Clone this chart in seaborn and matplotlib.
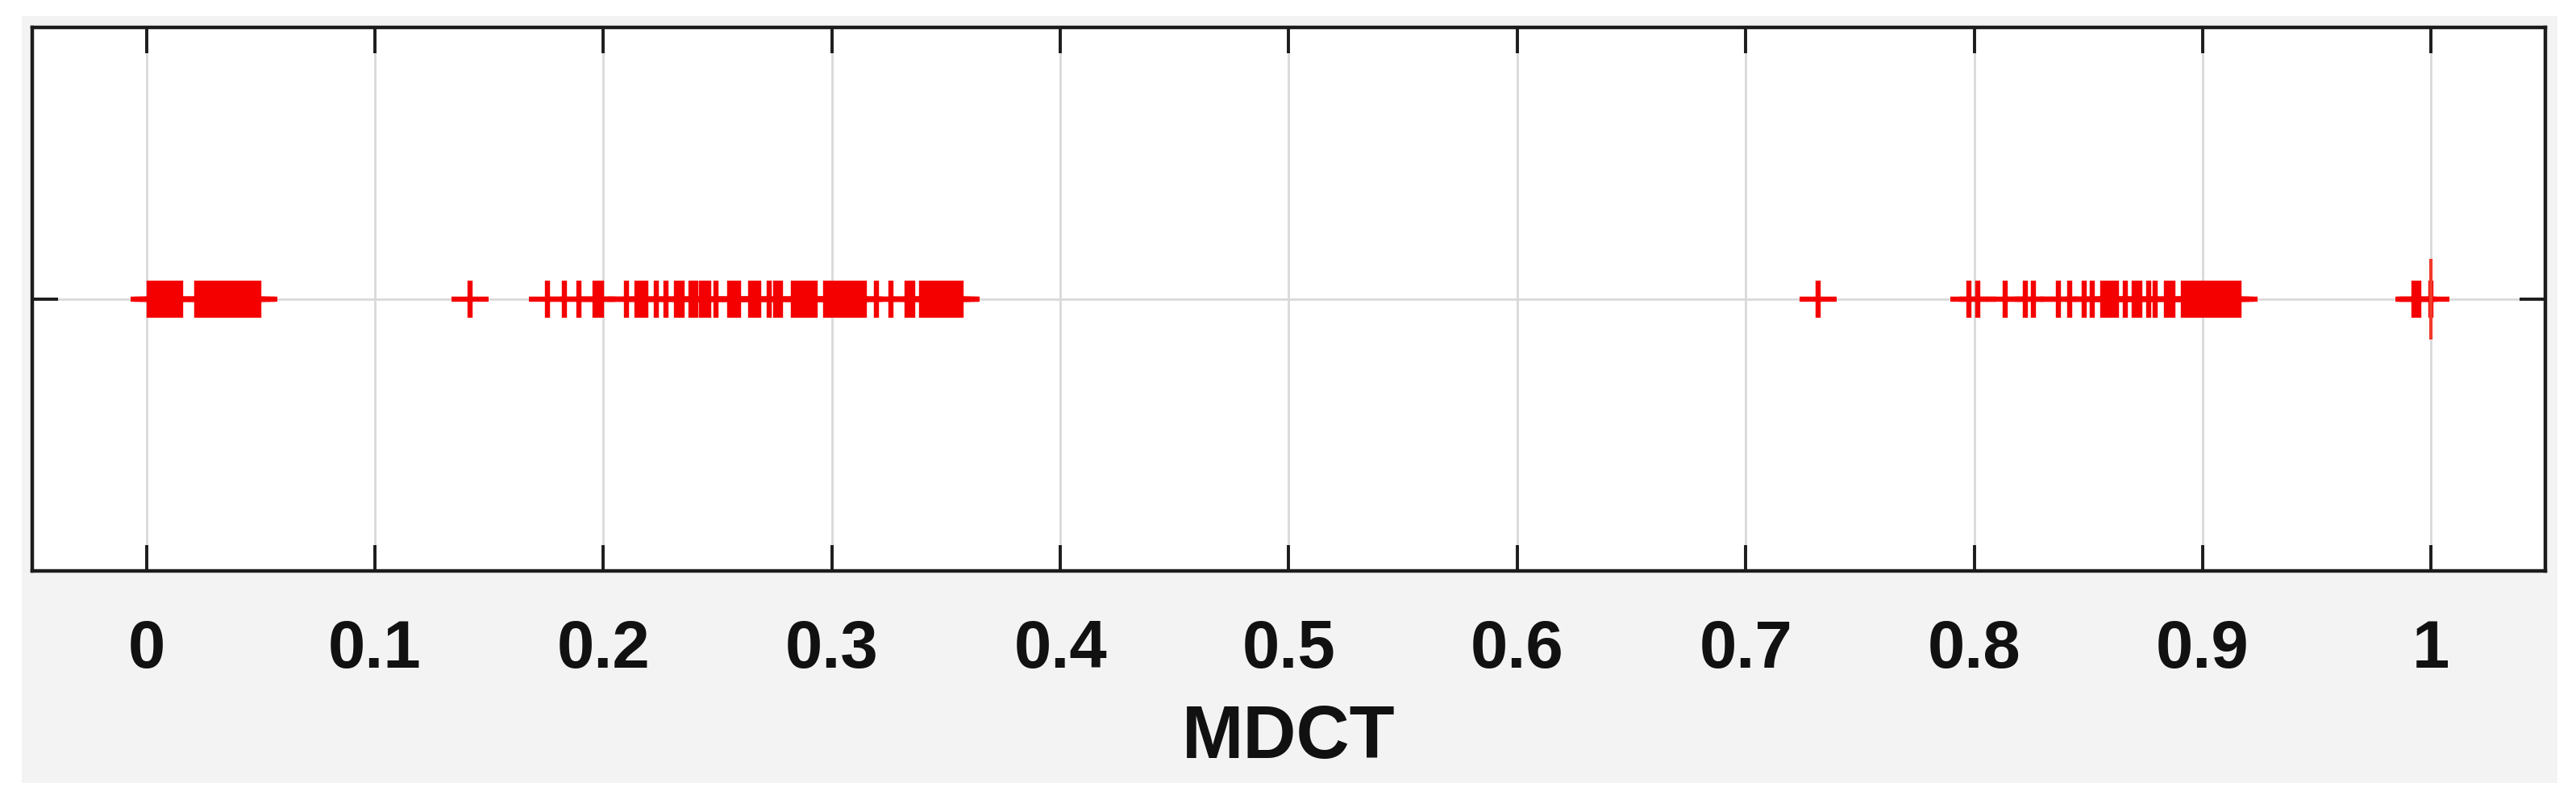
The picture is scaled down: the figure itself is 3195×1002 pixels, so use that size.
import seaborn as sns
import pandas as pd
import matplotlib.pyplot as plt
from matplotlib.patches import Rectangle

# MDCT values (all at y = 0)
cluster_low = [0.001, 0.003, 0.005, 0.007, 0.009, 0.011, 0.013, 0.015,
               0.022, 0.024, 0.026, 0.028, 0.030, 0.032, 0.034, 0.036,
               0.038, 0.040, 0.042, 0.044, 0.046, 0.048, 0.049]
cluster_mid = [0.1416, 0.1754, 0.1829, 0.1891, 0.1965, 0.1978, 0.1991,
               0.2101, 0.2146, 0.2160, 0.2175, 0.2187, 0.2232, 0.2275,
               0.2320, 0.2333, 0.2346, 0.2384, 0.2406, 0.2428, 0.2449,
               0.2461, 0.2493, 0.2552, 0.2566, 0.2580, 0.2593, 0.2646,
               0.2660, 0.2672, 0.2680, 0.2725, 0.2754, 0.2775, 0.2832,
               0.2847, 0.2862, 0.2877, 0.2892, 0.2907, 0.2922, 0.2926,
               0.2972, 0.2987, 0.3002, 0.3017, 0.3032, 0.3047, 0.3062,
               0.3077, 0.3092, 0.3107, 0.3122, 0.3137, 0.3143, 0.3196,
               0.3260, 0.3328, 0.3341, 0.3354, 0.3393, 0.3408, 0.3423,
               0.3438, 0.3453, 0.3468, 0.3483, 0.3498, 0.3513, 0.3528,
               0.3543, 0.3558, 0.3564]
cluster_high = [0.7317, 0.7978, 0.8014, 0.8137, 0.8223, 0.8259, 0.8367,
                0.8417, 0.8482, 0.8518, 0.8563, 0.8578, 0.8593, 0.8608,
                0.8624, 0.8662, 0.8699, 0.8712, 0.8725, 0.8763, 0.8791,
                0.8843, 0.8856, 0.8869, 0.8915, 0.8930, 0.8945, 0.8960,
                0.8975, 0.8990, 0.9005, 0.9020, 0.9035, 0.9050, 0.9065,
                0.9080, 0.9095, 0.9110, 0.9125, 0.9140, 0.9160]
cluster_top = [0.9925, 0.9935, 0.9945, 1.0]
tall_mark = [1.0]

xticks = [0, 0.1, 0.2, 0.3, 0.4, 0.5, 0.6, 0.7, 0.8, 0.9, 1]
xticklabels = ["0", "0.1", "0.2", "0.3", "0.4", "0.5", "0.6", "0.7", "0.8", "0.9", "1"]

values = cluster_low + cluster_mid + cluster_high + cluster_top
data = pd.DataFrame({"MDCT": values, "y": [0] * len(values)})
extra = pd.DataFrame({"MDCT": tall_mark, "y": [0] * len(tall_mark)})

sns.set_theme(style="white")
plt.rcParams['font.family'] = ['Liberation Sans', 'DejaVu Sans']

fig = plt.figure(figsize=(31.95, 10.03), dpi=100, facecolor="white")
# light grey panel behind the plot, like the exported figure window
fig.patches.append(Rectangle((27 / 3195, 1 - 972 / 1003), (3172 - 27) / 3195, (972 - 21) / 1003,
                             transform=fig.transFigure, facecolor="#f3f3f3", edgecolor="none", zorder=-10))
ax = fig.add_axes([40 / 3195, 1 - 709 / 1003, (3157 - 40) / 3195, (709 - 35) / 1003])
ax.set_facecolor("white")

sns.scatterplot(data=data, x="MDCT", y="y", marker="+", color="#f50000",
                s=33 ** 2, linewidth=4.6, ax=ax, zorder=3)
sns.scatterplot(data=extra, x="MDCT", y="y", marker="|", color="#f23a2a",
                s=72 ** 2, linewidth=3.0, ax=ax, zorder=4)

ax.set_xlim(-0.05, 1.05)
ax.set_ylim(-1, 1)
ax.set_xticks(xticks)
ax.set_xticklabels(xticklabels, fontsize=60, fontweight="bold", color="#111111")
ax.set_yticks([0])
ax.set_yticklabels([])
ax.grid(True, color="#d9d9d9", linewidth=2)
ax.set_axisbelow(True)
ax.tick_params(axis="x", direction="in", length=23, width=2.8, color="#1c1c1c",
               top=True, bottom=True, pad=42)
ax.tick_params(axis="y", direction="in", length=23, width=2.8, color="#1c1c1c",
               left=True, right=True)
for sp in ax.spines.values():
    sp.set_color("#1c1c1c")
    sp.set_linewidth(3.2)
ax.set_xlabel("MDCT", fontsize=66, fontweight="bold", labelpad=20, color="#111111")
ax.set_ylabel("")

plt.savefig("out.png", dpi=100, facecolor="white")
